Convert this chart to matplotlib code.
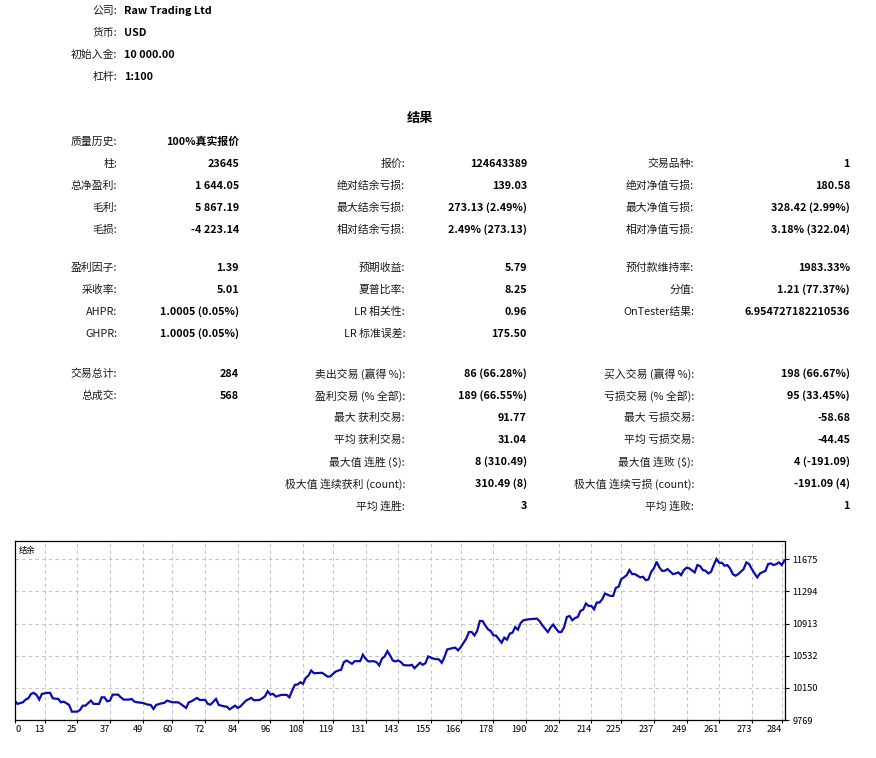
import matplotlib
matplotlib.use('Agg')
import matplotlib.pyplot as plt

plt.rcParams['font.family'] = ['Noto Sans CJK SC', 'DejaVu Sans']

# account header
header_labels = ['公司:', '货币:', '初始入金:', '杠杆:']
header_values = ['Raw Trading Ltd', 'USD', '10 000.00', '1:100']

title = '结果'

# results table, three blocks of rows, three columns (label, value)
col1_labels = [['质量历史:', '柱:', '总净盈利:', '毛利:', '毛损:'],
               ['盈利因子:', '采收率:', 'AHPR:', 'GHPR:'],
               ['交易总计:', '总成交:']]
col1_values = [['100%真实报价', '23645', '1 644.05', '5 867.19', '-4 223.14'],
               ['1.39', '5.01', '1.0005 (0.05%)', '1.0005 (0.05%)'],
               ['284', '568']]

col2_labels = [['', '报价:', '绝对结余亏损:', '最大结余亏损:', '相对结余亏损:'],
               ['预期收益:', '夏普比率:', 'LR 相关性:', 'LR 标准误差:'],
               ['卖出交易 (赢得 %):', '盈利交易 (% 全部):', '最大 获利交易:', '平均 获利交易:',
                '最大值 连胜 ($):', '极大值 连续获利 (count):', '平均 连胜:']]
col2_values = [['', '124643389', '139.03', '273.13 (2.49%)', '2.49% (273.13)'],
               ['5.79', '8.25', '0.96', '175.50'],
               ['86 (66.28%)', '189 (66.55%)', '91.77', '31.04',
                '8 (310.49)', '310.49 (8)', '3']]

col3_labels = [['', '交易品种:', '绝对净值亏损:', '最大净值亏损:', '相对净值亏损:'],
               ['预付款维持率:', '分值:', 'OnTester结果:', ''],
               ['买入交易 (赢得 %):', '亏损交易 (% 全部):', '最大 亏损交易:', '平均 亏损交易:',
                '最大值 连败 ($):', '极大值 连续亏损 (count):', '平均 连败:']]
col3_values = [['', '1', '180.58', '328.42 (2.99%)', '3.18% (322.04)'],
               ['1983.33%', '1.21 (77.37%)', '6.954727182210536', ''],
               ['198 (66.67%)', '95 (33.45%)', '-58.68', '-44.45',
                '4 (-191.09)', '-191.09 (4)', '1']]

# balance curve (trade number, balance)
trade_no = [2, 3, 5, 6, 7, 8, 9, 10, 11, 12, 14, 15, 16, 18, 19, 20, 22, 23, 25, 26,
            27, 28, 30, 31, 33, 34, 35, 36, 37, 38, 40, 41, 42, 44, 45, 46, 47, 49, 51, 52,
            53, 54, 56, 57, 58, 60, 62, 63, 65, 66, 67, 69, 70, 72, 73, 74, 76, 77, 79, 80,
            81, 83, 84, 85, 87, 89, 90, 92, 93, 94, 95, 96, 97, 98, 100, 102, 103, 104, 105, 106,
            107, 108, 109, 110, 111, 112, 115, 117, 118, 120, 121, 122, 123, 124, 126, 127, 129, 130, 131, 132,
            134, 135, 136, 137, 138, 139, 140, 141, 142, 143, 144, 145, 147, 148, 149, 151, 152, 153, 154, 156,
            158, 159, 160, 161, 163, 164, 165, 166, 168, 169, 170, 171, 172, 173, 174, 175, 176, 177, 178, 179,
            181, 182, 183, 184, 185, 186, 187, 188, 189, 191, 194, 195, 196, 198, 199, 200, 201, 202, 203, 204,
            205, 206, 207, 208, 209, 210, 211, 212, 213, 214, 215, 216, 217, 218, 219, 221, 222, 223, 224, 225,
            226, 227, 228, 229, 230, 232, 233, 234, 235, 236, 237, 238, 239, 240, 241, 242, 244, 245, 246, 247,
            248, 249, 250, 252, 253, 254, 255, 256, 257, 258, 259, 260, 261, 262, 263, 264, 265, 266, 267, 268,
            270, 271, 272, 273, 274, 275, 276, 278, 279, 280, 281, 282, 283, 284, 285]
balance = [9999, 9960, 9979, 10011, 10026, 10079, 10091, 10067, 10011, 10079, 10091, 10091, 10026, 10019, 9979, 9987, 9948, 9868, 9868, 9888,
           9939, 9939, 9999, 9960, 9960, 10038, 10038, 9991, 9999, 10070, 10070, 10038, 10011, 10011, 10019, 9987, 9979, 9972, 9951, 9948,
           9900, 9948, 9967, 9972, 9999, 9979, 9979, 9960, 9912, 9979, 9991, 10031, 10007, 10007, 9960, 9951, 10019, 9948, 9931, 9927,
           9895, 9939, 9912, 9931, 9999, 10031, 10003, 10007, 10026, 10050, 10110, 10070, 10079, 10047, 10067, 10067, 10038, 10118, 10186, 10190,
           10217, 10198, 10269, 10297, 10356, 10324, 10329, 10285, 10285, 10344, 10356, 10365, 10455, 10475, 10436, 10467, 10467, 10543, 10496, 10464,
           10467, 10455, 10416, 10496, 10523, 10586, 10535, 10475, 10464, 10475, 10455, 10420, 10416, 10424, 10384, 10448, 10424, 10443, 10523, 10496,
           10487, 10448, 10515, 10606, 10622, 10627, 10595, 10634, 10734, 10813, 10813, 10773, 10824, 10944, 10944, 10892, 10845, 10824, 10773, 10770,
           10686, 10746, 10722, 10794, 10805, 10872, 10841, 10920, 10952, 10964, 10972, 10940, 10892, 10813, 10865, 10901, 10853, 10813, 10813, 10872,
           10991, 11003, 10952, 10979, 10991, 11063, 11079, 11151, 11122, 11122, 11083, 11163, 11163, 11202, 11270, 11241, 11241, 11337, 11349, 11440,
           11461, 11488, 11548, 11500, 11500, 11461, 11468, 11428, 11437, 11527, 11568, 11646, 11580, 11539, 11539, 11560, 11500, 11508, 11520, 11488,
           11548, 11575, 11568, 11520, 11607, 11595, 11548, 11539, 11508, 11527, 11607, 11679, 11634, 11634, 11599, 11607, 11568, 11500, 11480, 11500,
           11560, 11639, 11619, 11560, 11508, 11461, 11508, 11539, 11619, 11627, 11607, 11619, 11639, 11607, 11662]

x_tick_labels = [0, 13, 25, 37, 49, 60, 72, 84, 96, 108, 119, 131, 143, 155, 166,
                 178, 190, 202, 214, 225, 237, 249, 261, 273, 284]
y_ticks = [9769, 10150, 10532, 10913, 11294, 11675]
chart_label = '结余'

W, H = 876, 758
fig = plt.figure(figsize=(W / 100, H / 100), dpi=100)
fig.patch.set_facecolor('white')


def put(x, y, s, ha='right', bold=False, size=7.8, color='#1a1a1a'):
    fig.text(x / W, 1 - y / H, s, ha=ha, va='center', fontsize=size,
             fontweight='bold' if bold else 'normal', color=color)


for i, (lab, val) in enumerate(zip(header_labels, header_values)):
    y = 11 + 22 * i
    put(117, y, lab)
    put(124, y, val, ha='left', bold=True, color='black')

put(420, 118, title, ha='center', bold=True, size=9.5, color='black')

block_top = [142, 268, 374]
columns = [(117, 239, col1_labels, col1_values),
           (405, 527, col2_labels, col2_values),
           (694, 850, col3_labels, col3_values)]
for lab_x, val_x, labs, vals in columns:
    for b, (bl, bv) in enumerate(zip(labs, vals)):
        for r, (lab, val) in enumerate(zip(bl, bv)):
            y = block_top[b] + 22 * r
            if lab:
                put(lab_x, y, lab)
            if val:
                put(val_x, y, val, bold=True, color='black')

# balance chart
ax = fig.add_axes([15 / W, (H - 720) / H, 770 / W, 178.7 / H])
ax.plot(trade_no, balance, color='#0b0bb0', linewidth=1.6, solid_joinstyle='miter')
ax.set_xlim(2.1, 285.2)
ax.set_ylim(9769, 11889)

ax.set_xticks([2.1] + x_tick_labels[1:])
ax.set_xticklabels([str(v) for v in x_tick_labels])
for k, t in enumerate(ax.get_xticklabels()):
    t.set_horizontalalignment('left' if k == 0 else 'right')
ax.set_yticks(y_ticks)
ax.set_yticklabels([str(v) for v in y_ticks])
ax.yaxis.tick_right()

ax.tick_params(axis='x', length=2, width=0.8, pad=1.5, labelsize=6.6, colors='black')
ax.tick_params(axis='y', length=3, width=0.8, pad=2.5, labelsize=6.6, colors='black')
ax.grid(True, color='#c4c4c4', linestyle=(0, (3, 3)), linewidth=0.8)
for sp in ax.spines.values():
    sp.set_color('black')
    sp.set_linewidth(0.9)

ax.text(0.005, 0.95, chart_label, transform=ax.transAxes, ha='left', va='center',
        fontsize=6, color='black')

fig.savefig('out.png', dpi=100, facecolor='white')
